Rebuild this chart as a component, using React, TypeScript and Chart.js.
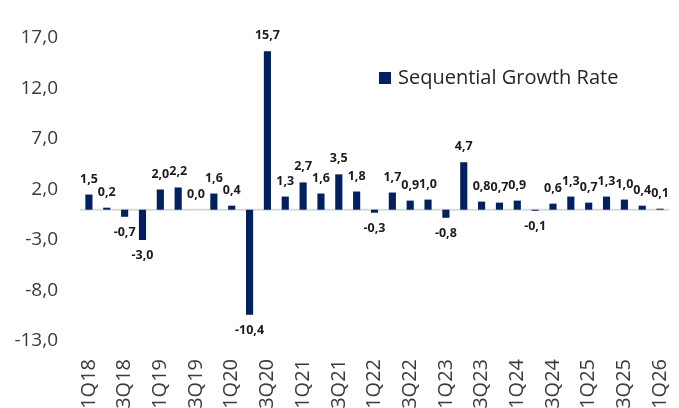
import { useEffect, useRef } from "react";
import { Chart, registerables } from "chart.js";

Chart.register(...registerables);

// Quarter-on-quarter growth, in percent
const quarters = [
  "1Q18", "2Q18", "3Q18", "4Q18",
  "1Q19", "2Q19", "3Q19", "4Q19",
  "1Q20", "2Q20", "3Q20", "4Q20",
  "1Q21", "2Q21", "3Q21", "4Q21",
  "1Q22", "2Q22", "3Q22", "4Q22",
  "1Q23", "2Q23", "3Q23", "4Q23",
  "1Q24", "2Q24", "3Q24", "4Q24",
  "1Q25", "2Q25", "3Q25", "4Q25",
  "1Q26",
];

const growth = [
  1.5, 0.2, -0.7, -3.0,
  2.0, 2.2, 0.0, 1.6,
  0.4, -10.4, 15.7, 1.3,
  2.7, 1.6, 3.5, 1.8,
  -0.3, 1.7, 0.9, 1.0,
  -0.8, 4.7, 0.8, 0.7,
  0.9, -0.1, 0.6, 1.3,
  0.7, 1.3, 1.0, 0.4,
  0.1,
];

const yTickValues = [17, 12, 7, 2, -3, -8, -13];
const seriesName = "Sequential Growth Rate";

const BAR_COLOR = "#002060";
const TEXT_COLOR = "#3b3b3b";
const FONT = "'Open Sans', sans-serif";

const fmt = (v: number) => v.toFixed(1).replace(".", ",");

// Zero baseline across the plot
const zeroLinePlugin = {
  id: "zeroLine",
  beforeDatasetsDraw(chart: any) {
    const { ctx, chartArea, scales } = chart;
    const y = scales.y.getPixelForValue(0);
    ctx.save();
    ctx.strokeStyle = "#d9d9d9";
    ctx.lineWidth = 2;
    ctx.beginPath();
    ctx.moveTo(chartArea.left, y);
    ctx.lineTo(chartArea.right, y);
    ctx.stroke();
    ctx.restore();
  },
};

// Value labels at the outer end of each bar
const valueLabelPlugin = {
  id: "valueLabels",
  afterDatasetsDraw(chart: any) {
    const { ctx } = chart;
    const meta = chart.getDatasetMeta(0);
    ctx.save();
    ctx.font = `bold 12.5px ${FONT}`;
    ctx.fillStyle = "#1a1a1a";
    ctx.textAlign = "center";
    ctx.textBaseline = "alphabetic";
    meta.data.forEach((el: any, i: number) => {
      const v = growth[i];
      const y = v >= 0 ? el.y - 12 : el.y + 10 + 9;
      ctx.fillText(fmt(v), el.x, y);
    });
    ctx.restore();
  },
};

// Legend drawn inside the plot area
const insideLegendPlugin = {
  id: "insideLegend",
  afterDraw(chart: any) {
    const { ctx } = chart;
    ctx.save();
    ctx.fillStyle = BAR_COLOR;
    ctx.fillRect(379, 72, 12, 12);
    ctx.font = `20px ${FONT}`;
    ctx.fillStyle = "#262626";
    ctx.textAlign = "left";
    ctx.textBaseline = "middle";
    ctx.fillText(seriesName, 398, 78.5);
    ctx.restore();
  },
};

export default function App() {
  const canvasRef = useRef<HTMLCanvasElement | null>(null);

  useEffect(() => {
    if (!canvasRef.current) return;
    const chart = new Chart(canvasRef.current, {
      type: "bar",
      data: {
        labels: quarters,
        datasets: [
          {
            label: seriesName,
            data: growth,
            backgroundColor: BAR_COLOR,
            barPercentage: 0.4,
            categoryPercentage: 1,
          },
        ],
      },
      options: {
        responsive: false,
        animation: false,
        devicePixelRatio: 1,
        layout: { padding: { top: 38, right: 10, left: 0, bottom: 0 } },
        plugins: {
          legend: { display: false },
          tooltip: { enabled: false },
        },
        scales: {
          x: {
            grid: { display: false, drawTicks: false },
            border: { display: false },
            ticks: {
              autoSkip: false,
              minRotation: 90,
              maxRotation: 90,
              padding: 18,
              color: TEXT_COLOR,
              font: { family: FONT, size: 20 },
              callback: (_v: any, i: number) => (i % 2 === 0 ? quarters[i] : ""),
            },
            afterFit: (scale: any) => {
              scale.height = 75;
              scale.paddingLeft = 0;
              scale.paddingRight = 0;
            },
          },
          y: {
            min: -13,
            max: 17,
            grid: { display: false, drawTicks: false },
            border: { display: false },
            afterBuildTicks: (scale: any) => {
              scale.ticks = yTickValues.map((value) => ({ value }));
            },
            afterFit: (scale: any) => {
              scale.width = 80;
            },
            ticks: {
              padding: 22,
              color: TEXT_COLOR,
              font: { family: FONT, size: 19 },
              callback: (v: any) => fmt(Number(v)),
            },
          },
        },
      },
      plugins: [zeroLinePlugin, valueLabelPlugin, insideLegendPlugin],
    });
    (document as any).fonts?.load?.(`19px ${FONT}`).then(() => chart.update()).catch(() => {});
    return () => chart.destroy();
  }, []);

  return (
    <div
      style={{
        position: "fixed",
        left: 0,
        top: 0,
        width: 679,
        height: 408,
        overflow: "hidden",
        background: "#ffffff",
      }}
    >
      <canvas ref={canvasRef} width={679} height={416} style={{ display: "block" }} />
    </div>
  );
}
